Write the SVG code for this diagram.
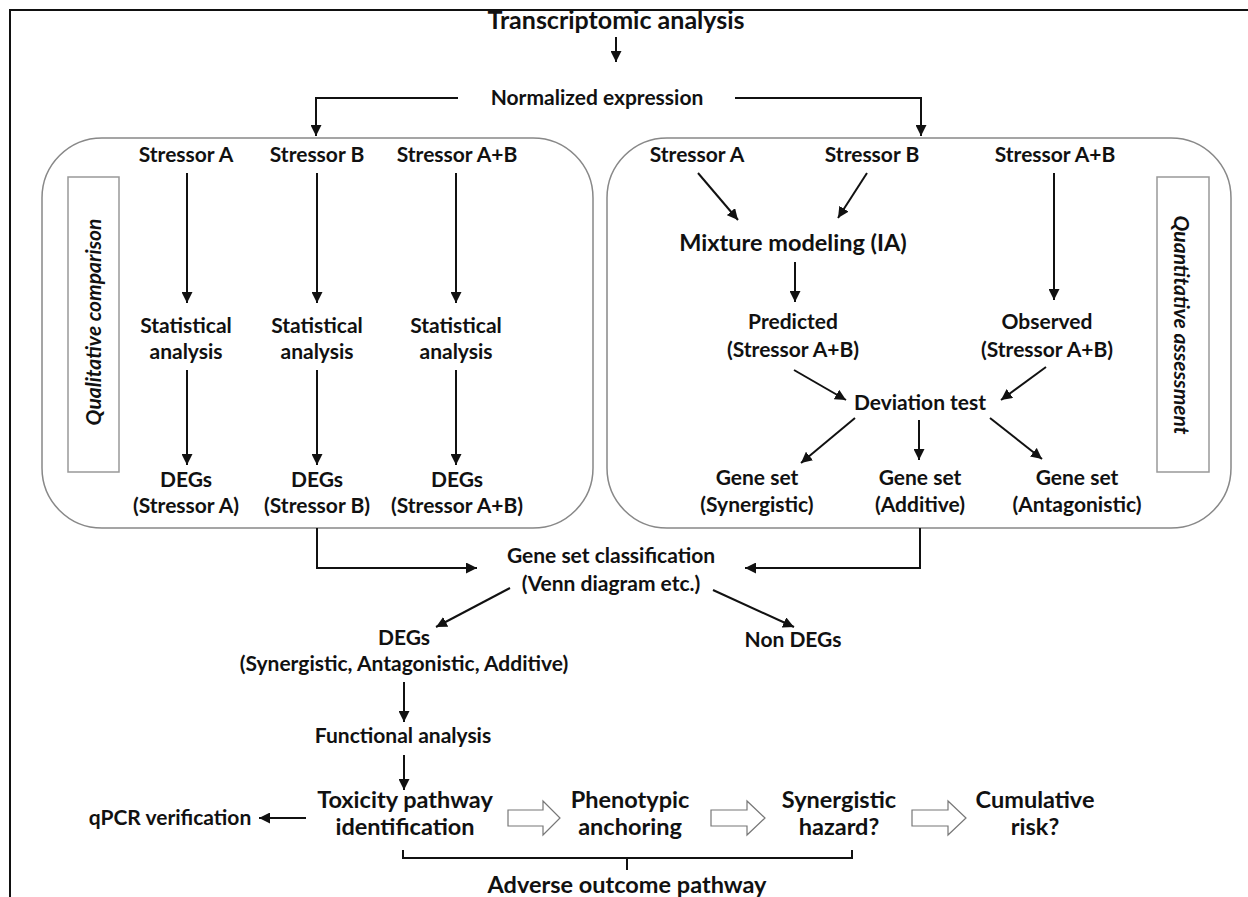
<svg xmlns="http://www.w3.org/2000/svg" width="1248" height="897" viewBox="0 0 1248 897">
<style>
.t{font-family:Lato,"Open Sans","Liberation Sans",sans-serif;font-weight:bold;font-size:21px;text-anchor:middle;fill:#111}
.big{font-size:23.5px}
.ttl{font-size:25px}
.lbl{font-style:italic;font-size:21px}
.box{fill:none;stroke:#888;stroke-width:1.5}
.lbox{fill:none;stroke:#999;stroke-width:1.5}
.c{fill:none;stroke:#111;stroke-width:2}
.blk{fill:#fff;stroke:#777;stroke-width:1.2}
</style>
<defs>
<marker id="ah" viewBox="0 0 10 10" refX="10" refY="5" markerWidth="5.5" markerHeight="5.5" orient="auto" markerUnits="strokeWidth">
<path d="M0,0 L10,5 L0,10 z" fill="#111"/>
</marker>
</defs>
<rect width="1248" height="897" fill="#fff"/>
<path d="M10,897 V10 H1248" fill="none" stroke="#111" stroke-width="2"/>

<g id="title"><text class="t ttl" x="616" y="29">Transcriptomic analysis</text></g>
<g id="normalized"><text class="t" x="597" y="105">Normalized expression</text></g>

<g id="qual-box">
<rect class="box" x="42" y="138" width="551" height="390" rx="60" ry="60"/>
<rect class="lbox" x="68" y="177" width="51" height="295"/>
<text class="t lbl" transform="translate(101,322) rotate(-90)">Qualitative comparison</text>
</g>
<g id="quant-box">
<rect class="box" x="607" y="138" width="624" height="390" rx="60" ry="60"/>
<rect class="lbox" x="1157" y="177" width="52" height="295"/>
<text class="t lbl" transform="translate(1174,325) rotate(90)">Quantitative assessment</text>
</g>

<g id="l-stressA"><text class="t" x="186" y="162">Stressor A</text></g>
<g id="l-stressB"><text class="t" x="317" y="162">Stressor B</text></g>
<g id="l-stressAB"><text class="t" x="457" y="162">Stressor A+B</text></g>
<g id="l-statA"><text class="t" x="186" y="333">Statistical</text><text class="t" x="186" y="359">analysis</text></g>
<g id="l-statB"><text class="t" x="317" y="333">Statistical</text><text class="t" x="317" y="359">analysis</text></g>
<g id="l-statAB"><text class="t" x="456" y="333">Statistical</text><text class="t" x="456" y="359">analysis</text></g>
<g id="l-degA"><text class="t" x="186" y="487">DEGs</text><text class="t" x="186" y="513">(Stressor A)</text></g>
<g id="l-degB"><text class="t" x="317" y="487">DEGs</text><text class="t" x="317" y="513">(Stressor B)</text></g>
<g id="l-degAB"><text class="t" x="457" y="487">DEGs</text><text class="t" x="457" y="513">(Stressor A+B)</text></g>

<g id="r-stressA"><text class="t" x="697" y="162">Stressor A</text></g>
<g id="r-stressB"><text class="t" x="872" y="162">Stressor B</text></g>
<g id="r-stressAB"><text class="t" x="1055" y="162">Stressor A+B</text></g>
<g id="mixture"><text class="t big" x="793" y="251">Mixture modeling (IA)</text></g>
<g id="predicted"><text class="t" x="793" y="329">Predicted</text><text class="t" x="793" y="357">(Stressor A+B)</text></g>
<g id="observed"><text class="t" x="1047" y="329">Observed</text><text class="t" x="1047" y="357">(Stressor A+B)</text></g>
<g id="deviation"><text class="t" x="920" y="410">Deviation test</text></g>
<g id="gs-syn"><text class="t" x="757" y="485">Gene set</text><text class="t" x="757" y="512">(Synergistic)</text></g>
<g id="gs-add"><text class="t" x="920" y="485">Gene set</text><text class="t" x="920" y="512">(Additive)</text></g>
<g id="gs-ant"><text class="t" x="1077" y="485">Gene set</text><text class="t" x="1077" y="512">(Antagonistic)</text></g>

<g id="classification"><text class="t" x="611" y="563">Gene set classification</text><text class="t" x="611" y="591">(Venn diagram etc.)</text></g>
<g id="degs"><text class="t" x="404" y="645">DEGs</text><text class="t" x="404" y="671">(Synergistic, Antagonistic, Additive)</text></g>
<g id="nondegs"><text class="t" x="793" y="647">Non DEGs</text></g>
<g id="functional"><text class="t" x="403" y="743">Functional analysis</text></g>
<g id="toxicity"><text class="t big" x="405" y="808">Toxicity pathway</text><text class="t big" x="405" y="835">identification</text></g>
<g id="qpcr"><text class="t" x="170" y="825">qPCR verification</text></g>
<g id="phenotypic"><text class="t big" x="630" y="808">Phenotypic</text><text class="t big" x="630" y="835">anchoring</text></g>
<g id="synhazard"><text class="t big" x="839" y="808">Synergistic</text><text class="t big" x="839" y="835">hazard?</text></g>
<g id="cumulative"><text class="t big" x="1035" y="808">Cumulative</text><text class="t big" x="1035" y="835">risk?</text></g>
<g id="aop"><text class="t big" x="627" y="893">Adverse outcome pathway</text></g>

<g id="connectors">
<path class="c" d="M616,37 V62" marker-end="url(#ah)"/>
<path class="c" d="M458,98 H316 V136" marker-end="url(#ah)"/>
<path class="c" d="M735,98 H921 V136" marker-end="url(#ah)"/>
<path class="c" d="M187,173 V303" marker-end="url(#ah)"/>
<path class="c" d="M317,173 V303" marker-end="url(#ah)"/>
<path class="c" d="M456,173 V303" marker-end="url(#ah)"/>
<path class="c" d="M187,370 V465" marker-end="url(#ah)"/>
<path class="c" d="M317,370 V465" marker-end="url(#ah)"/>
<path class="c" d="M456,370 V465" marker-end="url(#ah)"/>
<path class="c" d="M698,173 L738,220" marker-end="url(#ah)"/>
<path class="c" d="M867,173 L838,218" marker-end="url(#ah)"/>
<path class="c" d="M795,262 V302" marker-end="url(#ah)"/>
<path class="c" d="M1054,173 V300" marker-end="url(#ah)"/>
<path class="c" d="M794,370 L846,400" marker-end="url(#ah)"/>
<path class="c" d="M1046,367 L1001,400" marker-end="url(#ah)"/>
<path class="c" d="M855,418 L801,463" marker-end="url(#ah)"/>
<path class="c" d="M919,420 V460" marker-end="url(#ah)"/>
<path class="c" d="M990,418 L1042,459" marker-end="url(#ah)"/>
<path class="c" d="M317,528 V568 H477" marker-end="url(#ah)"/>
<path class="c" d="M920,528 V568 H745" marker-end="url(#ah)"/>
<path class="c" d="M510,588 L436,627" marker-end="url(#ah)"/>
<path class="c" d="M713,590 L794,627" marker-end="url(#ah)"/>
<path class="c" d="M404,682 V722" marker-end="url(#ah)"/>
<path class="c" d="M404,755 V790" marker-end="url(#ah)"/>
<path class="c" d="M306,818 H259" marker-end="url(#ah)"/>
<path class="c" d="M403,850 V858 H852 V850 M627,858 V870"/>
<polygon class="blk" points="508,810 543,810 543,801 560,818 543,835 543,826 508,826"/>
<polygon class="blk" points="711,810 747,810 747,801 765,818 747,835 747,826 711,826"/>
<polygon class="blk" points="912,810 948,810 948,801 966,818 948,835 948,826 912,826"/>
</g>
</svg>
